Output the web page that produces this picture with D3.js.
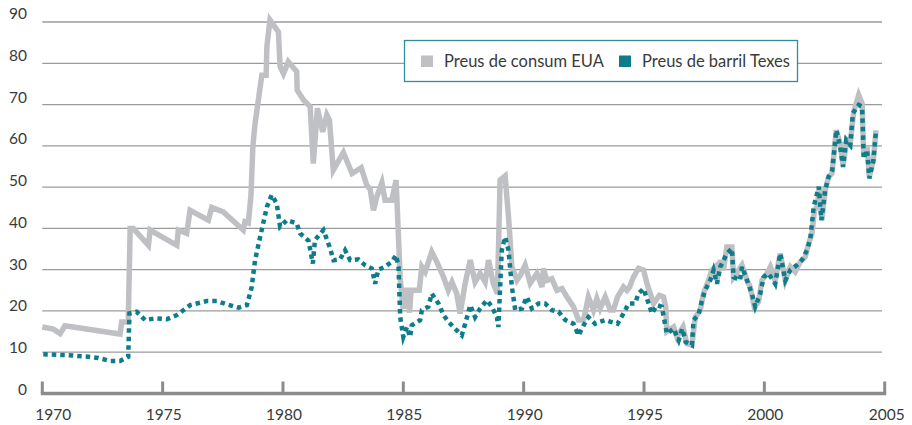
<!DOCTYPE html>
<html>
<head>
<meta charset="utf-8">
<script src="https://cdn.jsdelivr.net/npm/d3@7"></script>
<style>
  body { margin: 0; background: #fff; }
  svg text { font-family: Lato, "Open Sans", sans-serif; fill: #3a3a3a; }
</style>
</head>
<body>
<div id="chart"></div>
<script>
// preus de consum EUA (gris)
var consumYears = [1970.0, 1970.46, 1970.74, 1970.94, 1973.23, 1973.30, 1973.57, 1973.65, 1973.78, 1974.41,
  1974.48, 1975.59, 1975.65, 1976.0, 1976.14, 1976.90, 1977.04, 1977.52, 1978.35, 1978.42,
  1978.56, 1978.67, 1978.75, 1978.84, 1979.12, 1979.30, 1979.33, 1979.46, 1979.81, 1979.88,
  1980.02, 1980.22, 1980.57, 1980.59, 1980.85, 1981.13, 1981.26, 1981.43, 1981.65, 1981.82,
  1981.93, 1982.09, 1982.51, 1982.87, 1983.25, 1983.48, 1983.62, 1983.76, 1983.90, 1984.11,
  1984.24, 1984.52, 1984.70, 1984.87, 1984.99, 1985.12, 1985.26, 1985.32, 1985.66, 1985.77,
  1985.91, 1986.18, 1986.39, 1986.67, 1986.87, 1987.02, 1987.22, 1987.36, 1987.57, 1987.78,
  1987.98, 1988.19, 1988.40, 1988.54, 1988.74, 1988.91, 1989.02, 1989.23, 1989.37, 1989.51,
  1989.72, 1989.86, 1990.06, 1990.27, 1990.55, 1990.76, 1990.82, 1990.96, 1991.17, 1991.38,
  1991.59, 1991.80, 1992.07, 1992.28, 1992.49, 1992.69, 1992.90, 1993.04, 1993.18, 1993.39,
  1993.60, 1993.73, 1993.90, 1994.15, 1994.29, 1994.40, 1994.56, 1994.77, 1994.98, 1995.12,
  1995.40, 1995.64, 1995.81, 1995.90, 1995.95, 1996.23, 1996.37, 1996.62, 1996.78, 1996.99,
  1997.13, 1997.34, 1997.47, 1997.68, 1997.82, 1997.96, 1998.03, 1998.17, 1998.30, 1998.44,
  1998.65, 1998.72, 1998.93, 1999.07, 1999.28, 1999.41, 1999.58, 1999.76, 1999.90, 2000.11,
  2000.25, 2000.45, 2000.66, 2000.87, 2001.08, 2001.28, 2001.49, 2001.70, 2001.84, 2001.98,
  2002.08, 2002.19, 2002.29, 2002.39, 2002.53, 2002.67, 2002.81, 2002.99, 2003.15, 2003.27,
  2003.43, 2003.57, 2003.71, 2003.92, 2004.06, 2004.13, 2004.27, 2004.36, 2004.53, 2004.64];
var consumValues = [16.1, 15.6, 14.5, 16.4, 14.4, 17.3, 17.3, 40.0, 40.0, 35.9,
  39.6, 35.9, 39.6, 38.8, 44.4, 42.0, 45.1, 44.0, 39.6, 41.6,
  41.3, 48.0, 60.0, 65.4, 77.1, 77.1, 84.0, 90.5, 87.6, 79.2,
  77.5, 80.4, 78.0, 73.5, 71.1, 69.5, 55.7, 69.1, 63.4, 67.5,
  66.2, 54.1, 58.4, 53.3, 54.7, 50.5, 49.5, 44.4, 47.7, 51.1,
  46.8, 46.8, 51.7, 28.0, 20.5, 25.6, 19.6, 25.0, 25.0, 30.7,
  29.5, 34.3, 31.9, 28.2, 25.0, 27.0, 24.2, 19.4, 26.7, 32.3,
  27.0, 29.1, 27.0, 32.3, 26.6, 24.2, 51.7, 52.7, 42.8, 30.7,
  27.4, 28.6, 31.1, 26.7, 29.1, 25.8, 30.3, 27.4, 27.8, 25.0,
  25.4, 23.4, 21.0, 17.8, 17.8, 23.4, 20.2, 23.0, 20.6, 23.4,
  20.2, 20.2, 23.4, 25.8, 25.0, 25.8, 28.2, 30.3, 29.9, 26.7,
  21.8, 23.8, 23.4, 21.0, 15.0, 16.1, 13.7, 16.1, 12.1, 11.7,
  18.5, 20.2, 24.2, 27.4, 29.9, 30.7, 27.4, 32.3, 29.9, 35.5,
  35.5, 28.2, 29.9, 31.1, 27.4, 25.8, 21.0, 22.2, 27.4, 29.1,
  30.7, 27.4, 33.9, 27.4, 30.7, 29.5, 31.9, 33.1, 36.3, 38.8,
  44.4, 45.2, 50.1, 42.0, 49.3, 52.5, 53.3, 63.8, 60.6, 55.3,
  61.4, 60.6, 68.2, 72.3, 70.3, 57.3, 59.8, 52.5, 56.5, 63.8];

// preus de barril Texes (blau)
var barrilYears = [1970.04, 1971.01, 1971.91, 1972.33, 1972.81, 1973.23, 1973.57, 1973.62, 1973.92, 1974.27,
  1974.68, 1975.17, 1975.59, 1976.14, 1976.83, 1977.25, 1977.66, 1978.15, 1978.50, 1978.70,
  1978.84, 1979.05, 1979.33, 1979.53, 1979.74, 1979.88, 1980.16, 1980.57, 1980.71, 1981.06,
  1981.24, 1981.33, 1981.68, 1981.96, 1982.10, 1982.37, 1982.58, 1982.79, 1983.13, 1983.41,
  1983.69, 1983.83, 1983.96, 1984.24, 1984.52, 1984.70, 1984.80, 1984.87, 1985.00, 1985.15,
  1985.28, 1985.35, 1985.70, 1985.77, 1986.04, 1986.18, 1986.46, 1986.67, 1986.87, 1987.08,
  1987.43, 1987.57, 1987.78, 1987.98, 1988.19, 1988.47, 1988.68, 1988.89, 1988.95, 1989.09,
  1989.23, 1989.37, 1989.51, 1989.65, 1989.93, 1990.13, 1990.34, 1990.62, 1990.89, 1991.17,
  1991.45, 1991.73, 1992.07, 1992.28, 1992.49, 1992.69, 1992.97, 1993.18, 1993.39, 1993.60,
  1993.90, 1994.15, 1994.36, 1994.63, 1994.77, 1994.98, 1995.19, 1995.33, 1995.54, 1995.74,
  1995.95, 1996.23, 1996.44, 1996.59, 1996.73, 1996.99, 1997.06, 1997.26, 1997.41, 1997.54,
  1997.75, 1997.89, 1998.03, 1998.17, 1998.44, 1998.65, 1998.72, 1998.99, 1999.07, 1999.28,
  1999.48, 1999.62, 1999.83, 1999.97, 2000.17, 2000.45, 2000.66, 2000.87, 2001.08, 2001.35,
  2001.56, 2001.77, 2001.91, 2002.05, 2002.26, 2002.37, 2002.53, 2002.67, 2002.82, 2002.99,
  2003.15, 2003.27, 2003.40, 2003.57, 2003.68, 2003.92, 2004.06, 2004.13, 2004.27, 2004.36,
  2004.53, 2004.64];
var barrilValues = [9.5, 9.3, 8.9, 8.6, 7.9, 7.9, 8.9, 19.4, 19.8, 17.8,
  18.2, 18.0, 19.0, 21.4, 22.4, 22.4, 21.6, 20.8, 21.4, 25.8,
  32.3, 37.9, 45.2, 48.1, 46.0, 40.4, 42.0, 41.2, 38.8, 37.0,
  31.5, 37.2, 39.6, 35.1, 32.3, 32.5, 34.7, 32.3, 32.5, 31.1,
  30.3, 26.6, 30.0, 30.7, 31.9, 33.5, 30.7, 18.5, 13.7, 16.1,
  13.7, 16.5, 17.8, 20.2, 21.0, 24.2, 21.8, 19.0, 17.4, 16.1,
  14.1, 16.9, 21.4, 18.5, 20.6, 22.6, 21.0, 18.5, 16.1, 34.7,
  37.9, 34.7, 25.8, 20.2, 20.6, 23.4, 20.6, 21.8, 21.8, 20.2,
  19.8, 17.8, 16.9, 14.1, 16.5, 18.5, 16.9, 17.4, 17.8, 17.4,
  16.9, 19.4, 21.8, 21.8, 24.2, 25.4, 21.8, 19.4, 21.4, 21.0,
  14.5, 15.7, 12.9, 15.7, 12.5, 11.7, 17.8, 19.0, 22.6, 25.0,
  27.4, 29.9, 26.6, 30.7, 33.9, 35.1, 28.2, 27.4, 30.7, 27.4,
  24.2, 21.0, 24.2, 28.2, 29.1, 26.6, 33.9, 27.4, 29.9, 31.1,
  32.3, 34.7, 37.5, 45.2, 50.1, 42.0, 49.3, 52.5, 54.1, 63.8,
  59.8, 54.9, 61.4, 60.2, 67.9, 69.9, 69.5, 56.9, 59.0, 52.1,
  56.5, 63.8];

var yTicks = [0, 10, 20, 30, 40, 50, 60, 70, 80, 90];
var xTicks = [1970, 1975, 1980, 1985, 1990, 1995, 2000, 2005];
var legendLabels = ["Preus de consum EUA", "Preus de barril Texes"];
var colGray = "#bfc0c4";
var colTeal = "#0d7d8c";

var width = 912, height = 425;

var svg = d3.select("#chart")
  .append("svg")
  .attr("width", width)
  .attr("height", height);

var x = d3.scaleLinear().domain([1970, 2005]).range([42.3, 884.7]);
var y = d3.scaleLinear().domain([0, 90]).range([393.5, 22]);
// label baselines sit a bit apart from the gridlines
var yLab = d3.scaleLinear().domain([0, 90]).range([395, 19]);

// gridlines
svg.append("g")
  .selectAll("line")
  .data(yTicks.filter(function(d){ return d > 0; }))
  .enter()
  .append("line")
  .attr("x1", x(1970))
  .attr("x2", 882)
  .attr("y1", function(d){ return y(d); })
  .attr("y2", function(d){ return y(d); })
  .style("stroke", "#9b9b9b")
  .style("stroke-width", 1.3);

// y labels
svg.append("g")
  .selectAll("text")
  .data(yTicks)
  .enter()
  .append("text")
  .attr("x", 27)
  .attr("y", function(d){ return yLab(d); })
  .attr("text-anchor", "end")
  .style("font-size", "15.5px")
  .text(function(d){ return d; });

// x axis with ticks
svg.append("line")
  .attr("x1", x(1970) - 1.5)
  .attr("x2", x(2005) + 1.5)
  .attr("y1", y(0))
  .attr("y2", y(0))
  .style("stroke", "#8c8c8c")
  .style("stroke-width", 3.5);

svg.append("g")
  .selectAll("line")
  .data(xTicks)
  .enter()
  .append("line")
  .attr("x1", function(d){ return x(d); })
  .attr("x2", function(d){ return x(d); })
  .attr("y1", y(0))
  .attr("y2", y(0) - 12)
  .style("stroke", "#8c8c8c")
  .style("stroke-width", 3);

svg.append("g")
  .selectAll("text")
  .data(xTicks)
  .enter()
  .append("text")
  .attr("x", function(d, i){ return x(d) + (i == 0 ? 11 : (i == xTicks.length - 1 ? 2 : 1)); })
  .attr("y", 420)
  .attr("text-anchor", "middle")
  .style("font-size", "15.5px")
  .text(function(d){ return d; });

// lines
var line = d3.line()
  .x(function(d){ return x(d[0]); })
  .y(function(d){ return y(d[1]); });

var consum = d3.zip(consumYears, consumValues);
var barril = d3.zip(barrilYears, barrilValues);

svg.append("path")
  .datum(consum)
  .attr("d", line)
  .style("fill", "none")
  .style("stroke", colGray)
  .style("stroke-width", 5.5)
  .style("stroke-linejoin", "miter");

svg.append("path")
  .datum(barril)
  .attr("d", line)
  .style("fill", "none")
  .style("stroke", colTeal)
  .style("stroke-width", 4.5)
  .style("stroke-dasharray", "4.5,4");

// legend
var legend = svg.append("g");
legend.append("rect")
  .attr("x", 404.5)
  .attr("y", 40.5)
  .attr("width", 393)
  .attr("height", 41)
  .style("fill", "#fff")
  .style("stroke", "#2a8e9c")
  .style("stroke-width", 1.3);

var legX = [421, 619];
var legCol = [colGray, colTeal];
legend.selectAll("rect.sw")
  .data(legendLabels)
  .enter()
  .append("rect")
  .attr("class", "sw")
  .attr("x", function(d, i){ return legX[i]; })
  .attr("y", 55.5)
  .attr("width", 12)
  .attr("height", 11.5)
  .style("fill", function(d, i){ return legCol[i]; });

legend.selectAll("text")
  .data(legendLabels)
  .enter()
  .append("text")
  .attr("x", function(d, i){ return legX[i] + 23; })
  .attr("y", 66.5)
  .style("font-size", "16.5px")
  .text(function(d){ return d; });
</script>
</body>
</html>
